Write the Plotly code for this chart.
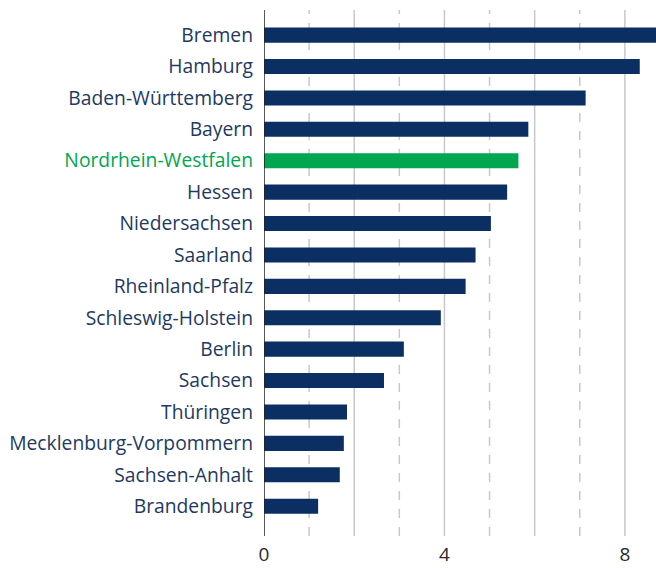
import plotly.graph_objects as go

states = ["Bremen", "Hamburg", "Baden-Württemberg", "Bayern", "Nordrhein-Westfalen",
          "Hessen", "Niedersachsen", "Saarland", "Rheinland-Pfalz", "Schleswig-Holstein",
          "Berlin", "Sachsen", "Thüringen", "Mecklenburg-Vorpommern", "Sachsen-Anhalt",
          "Brandenburg"]
values = [8.9, 8.33, 7.13, 5.86, 5.64, 5.39, 5.03, 4.69, 4.47, 3.92,
          3.10, 2.66, 1.84, 1.77, 1.68, 1.20]
highlight = "Nordrhein-Westfalen"

NAVY = "#0b2f63"
GREEN = "#00a650"
LABEL = "#1e3a5f"

colors = [GREEN if s == highlight else NAVY for s in states]

fig = go.Figure(go.Bar(
    x=values, y=states, orientation="h",
    marker=dict(color=colors, line=dict(width=0)),
    width=0.48,
))

shapes = []
for v in [2, 4, 6, 8]:
    shapes.append(dict(type="line", xref="x", yref="paper", x0=v, x1=v, y0=0, y1=1,
                       line=dict(color="#c8c8c8", width=1.5), layer="below"))
for v in [1, 3, 5, 7]:
    shapes.append(dict(type="line", xref="x", yref="paper", x0=v, x1=v, y0=0, y1=1,
                       line=dict(color="#c8c8c8", width=1.5, dash="dash"), layer="below"))
shapes.append(dict(type="line", xref="x", yref="paper", x0=0, x1=0, y0=0, y1=1,
                   line=dict(color="#222222", width=1.5), layer="above"))

ticktext = [f"<span style='color:{GREEN}'>{s}</span>" if s == highlight else s for s in states]

fig.update_layout(
    width=656, height=568,
    margin=dict(l=264, r=0, t=10, b=32),
    paper_bgcolor="white", plot_bgcolor="white",
    showlegend=False,
    shapes=shapes,
    font=dict(family="Open Sans, Arial, sans-serif"),
    xaxis=dict(range=[0, 8.69], tickvals=[0, 4, 8], showgrid=False, zeroline=False,
               showline=False, ticks="", ticklabelstandoff=5,
               tickfont=dict(size=19, color="#2a2a2a"),
               fixedrange=True),
    yaxis=dict(range=[15.95, -0.8], showgrid=False, zeroline=False, showline=False,
               ticks="", ticklabelstandoff=10, tickfont=dict(size=19.3, color=LABEL),
               tickmode="array", tickvals=states, ticktext=ticktext,
               fixedrange=True),
)

fig.write_html("out.html")
